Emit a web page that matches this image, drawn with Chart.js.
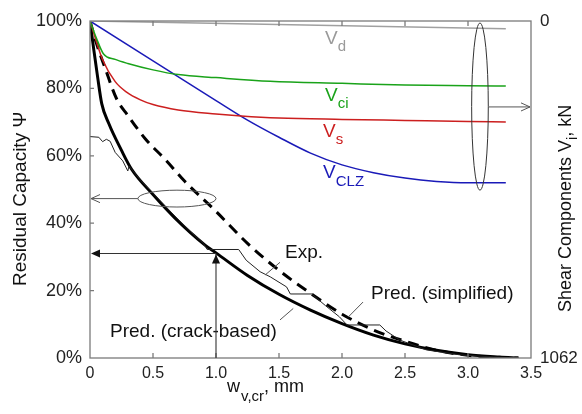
<!DOCTYPE html>
<html>
<head>
<meta charset="utf-8">
<script src="https://cdn.jsdelivr.net/npm/chart.js@4.4.1/dist/chart.umd.min.js"></script>
<style>
  body { margin: 0; background: #fff; }
  #wrap { width: 582px; height: 414px; }
</style>
</head>
<body>
<div id="wrap"><canvas id="capacityChart" width="582" height="414"></canvas></div>
<script>
// crack width w (mm) and residual capacity (%) for each curve
const vdW = [0, 3.3];
const vdPsi = [100, 97.7];

const vciW = [0, 0.05, 0.106, 0.2, 0.3, 0.5, 0.7, 1.0, 1.43, 2.0, 2.5, 3.0, 3.3];
const vciPsi = [100, 95, 90.3, 88.6, 87.4, 85.5, 84.1, 83.2, 82.1, 81.5, 81.0, 80.8, 80.7];

const vsW = [0, 0.05, 0.1, 0.2, 0.29, 0.4, 0.5, 0.7, 1.0, 1.2, 1.5, 2.0, 2.5, 3.0, 3.3];
const vsPsi = [100, 94, 88.5, 82, 78.9, 76.6, 75.2, 73.6, 72.4, 71.8, 71.2, 70.8, 70.5, 70.2, 70.0];

const vclzW = [0, 0.5, 1.0, 1.25, 1.5, 1.75, 2.0, 2.25, 2.5, 2.75, 3.0, 3.3];
const vclzPsi = [100, 88.2, 76.4, 70.6, 65.5, 60.8, 57.3, 55, 53.4, 52.4, 52.0, 52.0];

const crackW = [0, 0.03, 0.06, 0.093, 0.15, 0.25, 0.33, 0.5, 0.675, 0.913, 1.0, 1.25, 1.5, 1.75, 2.0, 2.25, 2.5, 2.75, 3.0, 3.25, 3.4];
const crackPsi = [100, 91.5, 83.5, 75.5, 69.5, 61.6, 56, 48.5, 41.5, 33.5, 31.2, 24.5, 18.9, 14.2, 10.2, 6.8, 4.2, 2.3, 1.0, 0.3, 0];

const simpW = [0, 0.05, 0.12, 0.21, 0.3, 0.44, 0.6, 0.75, 1.0, 1.25, 1.5, 1.75, 2.0, 2.25, 2.5, 2.75, 3.0, 3.2, 3.4];
const simpPsi = [100, 93.5, 86, 77, 72, 65, 58.8, 52.5, 43.5, 34, 26, 19.2, 13, 8.3, 5.0, 2.3, 0.8, 0.2, 0];

const expW = [0, 0.07, 0.1, 0.13, 0.16, 0.2, 0.26, 0.3, 0.31, 0.33, 0.4, 0.5, 0.6, 0.7, 0.8, 0.9, 0.93, 1.18, 1.24, 1.35, 1.43, 1.56, 1.59, 1.76, 1.87, 1.98, 2.04, 2.3, 2.35, 2.46, 2.67, 2.94, 3.2, 3.4];
const expPsi = [65.7, 65.5, 64.2, 64.9, 64.3, 61, 58.5, 55.5, 57, 56, 52.8, 48.9, 45, 41.1, 37.4, 34, 32.2, 32.2, 29, 25.6, 24.1, 21.1, 19, 19, 15.5, 12.2, 9.8, 9.8, 8, 5.3, 2.4, 0.9, 0.3, 0];

const xTicks = [0, 0.5, 1.0, 1.5, 2.0, 2.5, 3.0, 3.5];
const yTicks = [0, 20, 40, 60, 80, 100];
const shearTicks = [0, 1062];

const FONT = '"Liberation Sans", Arial, Helvetica, sans-serif';

function pts(xs, ys) {
  return xs.map((x, i) => ({ x: x, y: ys[i] }));
}

function curve(data, color, width, extra) {
  return Object.assign({
    data: data,
    borderColor: color,
    borderWidth: width,
    pointRadius: 0,
    fill: false,
    cubicInterpolationMode: "monotone",
  }, extra || {});
}

// main text + subscript, left aligned at (x, y) baseline
function subText(ctx, x, y, main, sub, size, subSize) {
  ctx.font = size + "px " + FONT;
  ctx.fillText(main, x, y);
  const w = ctx.measureText(main).width;
  ctx.font = subSize + "px " + FONT;
  ctx.fillText(sub, x + w, y + size * 0.38);
  return w + ctx.measureText(sub).width;
}

function arrowHead(ctx, x, y, angle, size, filled) {
  ctx.save();
  ctx.translate(x, y);
  ctx.rotate(angle);
  ctx.beginPath();
  ctx.moveTo(-size, -size * 0.45);
  ctx.lineTo(0, 0);
  ctx.lineTo(-size, size * 0.45);
  if (filled) {
    ctx.closePath();
    ctx.fill();
  } else {
    ctx.stroke();
  }
  ctx.restore();
}

const decorations = {
  id: "decorations",
  afterDatasetsDraw(chart) {
    const ctx = chart.ctx;
    const xs = chart.scales.x;
    const ys = chart.scales.y;
    const a = chart.chartArea;
    const px = (v) => xs.getPixelForValue(v);
    const py = (v) => ys.getPixelForValue(v);

    ctx.save();

    // frame and inward ticks
    ctx.strokeStyle = "#7a7a7a";
    ctx.lineWidth = 1.3;
    ctx.strokeRect(a.left, a.top, a.right - a.left, a.bottom - a.top);
    ctx.beginPath();
    xTicks.slice(1, -1).forEach((v) => {
      ctx.moveTo(px(v), a.bottom);
      ctx.lineTo(px(v), a.bottom - 5);
      ctx.moveTo(px(v), a.top);
      ctx.lineTo(px(v), a.top + 5);
    });
    yTicks.slice(1, -1).forEach((v) => {
      ctx.moveTo(a.left, py(v));
      ctx.lineTo(a.left + 4, py(v));
    });
    ctx.stroke();

    // curve labels
    ctx.textBaseline = "alphabetic";
    ctx.fillStyle = "#9a9a9a";
    subText(ctx, px(1.865), py(93.3), "V", "d", 19, 15);
    ctx.fillStyle = "#1aa31a";
    subText(ctx, px(1.865), py(76.4), "V", "ci", 19, 15);
    ctx.fillStyle = "#cc1f1f";
    subText(ctx, px(1.85), py(65.5), "V", "s", 19, 15);
    ctx.fillStyle = "#1a1ab8";
    subText(ctx, px(1.85), py(53.3), "V", "CLZ", 19, 15);

    // annotation text
    ctx.fillStyle = "#111";
    ctx.font = "19px " + FONT;
    ctx.fillText("Exp.", px(1.548), py(29.6));
    ctx.fillText("Pred. (simplified)", px(2.23), py(17.5));
    ctx.fillText("Pred. (crack-based)", px(0.159), py(6.2));

    // leader lines
    ctx.strokeStyle = "#555";
    ctx.lineWidth = 1;
    ctx.beginPath();
    ctx.moveTo(px(1.508), py(28.4));
    ctx.lineTo(px(1.389), py(24.6));
    ctx.moveTo(px(2.167), py(16.6));
    ctx.lineTo(px(2.048), py(12.1));
    ctx.moveTo(px(1.508), py(11.3));
    ctx.lineTo(px(1.613), py(14.7));
    ctx.stroke();

    // arrows to the 1.0 mm reading
    ctx.strokeStyle = "#333";
    ctx.fillStyle = "#111";
    ctx.lineWidth = 1.1;
    ctx.beginPath();
    ctx.moveTo(px(1.0), py(31));
    ctx.lineTo(px(0) + 2, py(31));
    ctx.moveTo(px(1.0), py(0));
    ctx.lineTo(px(1.0), py(31));
    ctx.stroke();
    arrowHead(ctx, px(0) + 1, py(31), Math.PI, 9, true);
    arrowHead(ctx, px(1.0), py(31) + 1, -Math.PI / 2, 9, true);

    // ellipses pointing to the axes
    ctx.strokeStyle = "#555";
    ctx.lineWidth = 1;
    ctx.beginPath();
    ctx.ellipse(px(0.69), py(47.3), px(0.69) - px(0.38), py(44.8) - py(47.3), 0, 0, Math.PI * 2);
    ctx.stroke();
    ctx.beginPath();
    ctx.moveTo(px(0.38), py(47.3));
    ctx.lineTo(px(0) + 1, py(47.3));
    ctx.stroke();
    arrowHead(ctx, px(0) + 1, py(47.3), Math.PI, 9, false);

    ctx.strokeStyle = "#333";
    ctx.beginPath();
    ctx.ellipse(px(3.095), py(74.6), px(3.161) - px(3.095), py(49.8) - py(74.6), 0, 0, Math.PI * 2);
    ctx.stroke();
    ctx.strokeStyle = "#555";
    ctx.beginPath();
    ctx.moveTo(px(3.161), py(74.5));
    ctx.lineTo(px(3.5) - 1, py(74.5));
    ctx.stroke();
    arrowHead(ctx, px(3.5) - 1, py(74.5), 0, 9, false);

    ctx.restore();
  },
  afterDraw(chart) {
    const ctx = chart.ctx;
    ctx.save();
    ctx.fillStyle = "#111";
    ctx.textBaseline = "alphabetic";

    // x axis title
    ctx.font = "18px " + FONT;
    const wW = ctx.measureText("w").width;
    ctx.font = "15px " + FONT;
    const subW = ctx.measureText("v,cr").width;
    const x0 = 227;
    ctx.font = "18px " + FONT;
    ctx.fillText("w", x0, 392);
    ctx.font = "15px " + FONT;
    ctx.fillText("v,cr", x0 + wW + 1, 401);
    ctx.font = "18px " + FONT;
    ctx.fillText(", mm", x0 + wW + subW + 1, 392);

    // left title, reading upwards
    ctx.save();
    ctx.translate(26, 286);
    ctx.rotate(-Math.PI / 2);
    ctx.font = "19px " + FONT;
    ctx.fillText("Residual Capacity \u03A8", 0, 0);
    ctx.restore();

    // right title, reading upwards
    ctx.save();
    ctx.translate(571, 312);
    ctx.rotate(-Math.PI / 2);
    ctx.font = "18px " + FONT;
    const t1 = "Shear Components V";
    const w1 = ctx.measureText(t1).width;
    ctx.fillText(t1, 0, 0);
    ctx.font = "14px " + FONT;
    const w2 = ctx.measureText("i").width;
    ctx.fillText("i", w1, 6);
    ctx.font = "18px " + FONT;
    ctx.fillText(", kN", w1 + w2, 0);
    ctx.restore();

    ctx.restore();
  },
};

const ctx = document.getElementById("capacityChart").getContext("2d");

new Chart(ctx, {
  type: "line",
  data: {
    datasets: [
      curve(pts(vdW, vdPsi), "#a0a0a0", 1.5, { cubicInterpolationMode: "default", tension: 0 }),
      curve(pts(vciW, vciPsi), "#1aa31a", 1.5),
      curve(pts(vsW, vsPsi), "#cc1f1f", 1.5),
      curve(pts(vclzW, vclzPsi), "#1a1ab8", 1.5),
      curve(pts(expW, expPsi), "#222", 1, { cubicInterpolationMode: "default", tension: 0 }),
      curve(pts(simpW, simpPsi), "#000", 3, { borderDash: [11, 7] }),
      curve(pts(crackW, crackPsi), "#000", 3),
    ],
  },
  options: {
    responsive: false,
    animation: false,
    devicePixelRatio: 1,
    layout: { padding: { top: 21, left: 0, right: 0, bottom: 0 } },
    plugins: {
      legend: { display: false },
      tooltip: { enabled: false },
    },
    scales: {
      x: {
        type: "linear",
        min: 0,
        max: 3.5,
        afterBuildTicks: (s) => { s.ticks = xTicks.map((v) => ({ value: v })); },
        ticks: {
          font: { family: FONT, size: 16 },
          color: "#222",
          padding: 6,
          maxRotation: 0,
          callback: (v) => (v === 0 ? "0" : v.toFixed(1)),
        },
        grid: { display: false, drawTicks: false },
        border: { display: false },
        afterFit: (s) => { s.height = 56; },
      },
      y: {
        min: 0,
        max: 100,
        afterBuildTicks: (s) => { s.ticks = yTicks.map((v) => ({ value: v })); },
        ticks: {
          font: { family: FONT, size: 18 },
          color: "#222",
          padding: 8,
          callback: (v) => v + "%",
        },
        grid: { display: false, drawTicks: false },
        border: { display: false },
        afterFit: (s) => { s.width = 90; },
      },
      y2: {
        position: "right",
        min: 0,
        max: 1062,
        reverse: true,
        afterBuildTicks: (s) => { s.ticks = shearTicks.map((v) => ({ value: v })); },
        ticks: {
          font: { family: FONT, size: 17 },
          color: "#222",
          padding: 9,
          callback: (v) => String(v),
        },
        grid: { display: false, drawTicks: false },
        border: { display: false },
        afterFit: (s) => { s.width = 51; },
      },
    },
  },
  plugins: [decorations],
});
</script>
</body>
</html>
